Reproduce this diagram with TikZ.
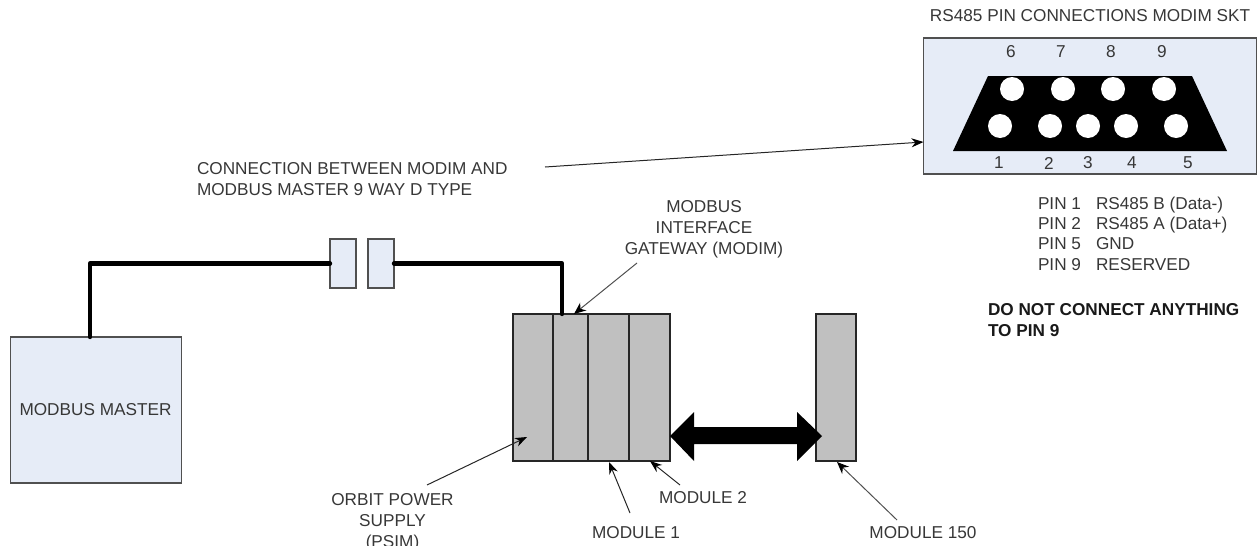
\documentclass[tikz,border=0pt]{standalone}
\usepackage{fontspec}
\setmainfont{Liberation Sans}
\usetikzlibrary{arrows.meta}
\definecolor{lblue}{RGB}{230,236,247}
\definecolor{mgray}{RGB}{192,192,192}
\definecolor{bord}{RGB}{80,80,80}
\definecolor{txt}{RGB}{55,55,55}
\tikzset{
  every node/.style={font=\fontsize{17.2}{21}\selectfont,text=txt,inner sep=0pt,outer sep=0pt},
  bluebox/.style={draw=bord,fill=lblue,line width=1.3pt,anchor=north west},
  greybox/.style={draw=black!85,fill=mgray,line width=1.1pt,anchor=north west},
  hole/.style={circle,fill=white,minimum size=24pt},
  cable/.style={line width=4.4pt,line cap=round,line join=round,black},
  pointer/.style={draw=bord,line width=1pt,-{Stealth[length=12pt,width=10pt,black]}},
  darkpointer/.style={draw=black!85,line width=1pt,-{Stealth[length=12pt,width=9pt,black]}},
  label/.style={align=center},
  leftlabel/.style={anchor=base west},
  boldlabel/.style={anchor=base west,font=\fontsize{17.2}{21}\selectfont\bfseries,text=black!90}
}
\begin{document}
\begin{tikzpicture}[x=1pt,y=-1pt]
\useasboundingbox (0,0) rectangle (1258,546);
\clip (0,0) rectangle (1258,546);
% socket
\node[bluebox,minimum width=333pt,minimum height=136pt] (skt) at (923.5,38) {};
\fill[black] (988,76) -- (1192,76) -- (1227,151) -- (953,151) -- cycle;
\foreach \n/\x in {h6/1012,h7/1063,h8/1113,h9/1164}{\node[hole] (\n) at (\x,89) {};}
\foreach \n/\x in {h1/1000,h2/1050,h3/1088,h4/1126,h5/1176}{\node[hole] (\n) at (\x,126) {};}
\foreach \n/\x in {6/1011,7/1061,8/1111,9/1162}{\node (t\n) at (\x,52) {\n};}
\foreach \n/\x in {1/999,2/1049,3/1088,4/1132,5/1188}{\node (t\n) at (\x,163) {\n};}
\node (title) at (1090,16) {RS485 PIN CONNECTIONS MODIM SKT};
% legend
\node[leftlabel] (p1) at (1038,209.5) {PIN 1};
\node[leftlabel] (a1) at (1096,209.5) {RS485 B (Data-)};
\node[leftlabel] (p2) at (1038,229.5) {PIN 2};
\node[leftlabel] (a2) at (1096,229.5) {RS485 A (Data+)};
\node[leftlabel] (p5) at (1038,249.5) {PIN 5};
\node[leftlabel] (a5) at (1096,249.5) {GND};
\node[leftlabel] (p9) at (1038,270) {PIN 9};
\node[leftlabel] (a9) at (1096,270) {RESERVED};
\node[boldlabel] (warn1) at (988,315.5) {DO NOT CONNECT ANYTHING};
\node[boldlabel] (warn2) at (988,336) {TO PIN 9};
% connection label
\node[leftlabel] (c1) at (197,174.5) {CONNECTION BETWEEN MODIM AND};
\node[leftlabel] (c2) at (197,195.5) {MODBUS MASTER 9 WAY D TYPE};
\coordinate (cstart) at (545,167);
\coordinate (cend) at (923.5,142);
\draw[darkpointer] (cstart) -- (cend);
% master and cable
\node[bluebox,minimum width=171pt,minimum height=146pt] (master) at (10.5,337) {};
\node (mastertext) at (95.5,409.5) {MODBUS MASTER};
\node[bluebox,minimum width=26pt,minimum height=49pt] (conA) at (330,239) {};
\node[bluebox,minimum width=26pt,minimum height=49pt] (conB) at (368,239) {};
% stack
\node[greybox,minimum width=40pt,minimum height=147pt] (psim) at (513,314) {};
\node[greybox,minimum width=35pt,minimum height=147pt] (modim) at (553,314) {};
\node[greybox,minimum width=41pt,minimum height=147pt] (mod1) at (588,314) {};
\node[greybox,minimum width=41pt,minimum height=147pt] (mod2) at (629,314) {};
\node[greybox,minimum width=40pt,minimum height=147pt] (mod150) at (816,314) {};
\coordinate (mastertop) at (90,337);
\coordinate (corner1) at (90,263.5);
\coordinate (corner2) at (562,263.5);
\coordinate (gate) at (562,314);
\draw[cable] (mastertop) -- (corner1) -- (conA.west);
\draw[cable] (conB.east) -- (corner2) -- (gate);
% bus arrow
\coordinate (busL) at (670,436);
\coordinate (busR) at (822,436);
\fill[black] (busL) -- (694,412) -- (694,427) -- (797,427) -- (797,412) -- (busR) -- (797,461) -- (797,444) -- (694,444) -- (694,461) -- cycle;
% labels and pointers
\node[label] (gatetext) at (704,229.5) {MODBUS\\INTERFACE\\GATEWAY (MODIM)};
\coordinate (gs) at (637,263);
\coordinate (gt) at (574,314);
\draw[pointer] (gs) -- (gt);
\node[label] (psu) at (392.5,522.5) {ORBIT POWER\\SUPPLY\\(PSIM)};
\coordinate (ps) at (427,485);
\coordinate (pt) at (527,437);
\draw[darkpointer] (ps) -- (pt);
\node (m1) at (636,533) {MODULE 1};
\coordinate (m1s) at (630,513);
\coordinate (m1t) at (609,462);
\draw[darkpointer] (m1s) -- (m1t);
\node (m2) at (703,498) {MODULE 2};
\coordinate (m2s) at (680,485);
\coordinate (m2t) at (650,461);
\draw[darkpointer] (m2s) -- (m2t);
\node (m150) at (923,533) {MODULE 150};
\coordinate (m150s) at (897,520);
\coordinate (m150t) at (837,462);
\draw[pointer] (m150s) -- (m150t);
\end{tikzpicture}
\end{document}
